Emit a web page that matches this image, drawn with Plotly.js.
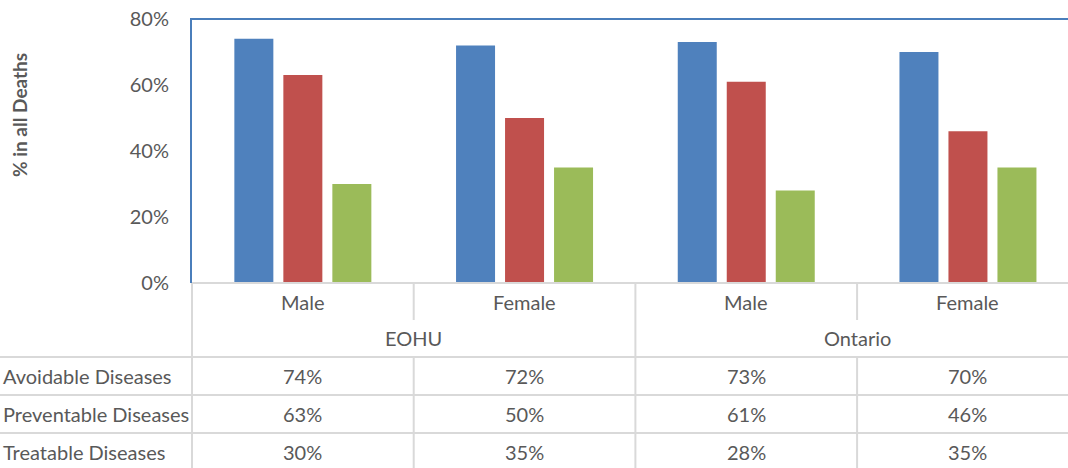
<!DOCTYPE html>
<html>
<head>
<meta charset="utf-8">
<script src="https://cdn.plot.ly/plotly-3.0.1.min.js"></script>
<style>html,body{margin:0;padding:0;background:#fff;}#chart{width:1068px;height:468px;}</style>
</head>
<body>
<div id="chart"></div>
<script>
// ---- data ----
var categories = ["Male", "Female", "Male ", "Female "];
var groups = ["EOHU", "Ontario"];
var seriesNames = ["Avoidable Diseases", "Preventable Diseases", "Treatable Diseases"];
var avoidable = [0.74, 0.72, 0.73, 0.70];
var preventable = [0.63, 0.50, 0.61, 0.46];
var treatable = [0.30, 0.35, 0.28, 0.35];
var tickValues = [0, 0.2, 0.4, 0.6, 0.8];
var tickLabels = ["0%", "20%", "40%", "60%", "80%"];

var seriesValues = [avoidable, preventable, treatable];
var colors = ["#4F81BD", "#C0504D", "#9BBB59"];
var FONT = "Lato, 'Open Sans', sans-serif";
var TXT = "#595959";
var GRID = "#D9D9D9";

// layout geometry (pixels)
var W = 1068, H = 468, L = 192, T = 19, B = 283;
var plotH = B - T;
function py(p) { return (B - p) / plotH; }
function px(p) { return (p - L) / (W - L); }
var catW = 221.7;
var xMax = -0.5 + (W - L) / catW;

var traces = seriesNames.map(function (n, i) {
  return {
    type: "bar", name: n, x: categories, y: seriesValues[i],
    marker: { color: colors[i] }, hoverinfo: "skip"
  };
});

var shapes = [];
var annotations = [];
function hline(yp, x0p) {
  shapes.push({ type: "line", xref: "paper", yref: "paper", x0: px(x0p), x1: 1.02, y0: py(yp), y1: py(yp), line: { color: GRID, width: 2 } });
}
function vline(xv, xref, y0p, y1p) {
  shapes.push({ type: "line", xref: xref, yref: "paper", x0: xv, x1: xv, y0: py(y0p), y1: py(y1p), line: { color: GRID, width: 2 } });
}
// table grid
hline(283, L);
hline(357, 0);
hline(395, 0);
hline(433, 0);
vline(0, "paper", 283, 480);
vline(0.5, "x", 283, 320);
vline(2.5, "x", 283, 320);
vline(0.5, "x", 357, 480);
vline(2.5, "x", 357, 480);
vline(1.5, "x", 283, 480);
// blue plot-area border (top and left)
shapes.push({ type: "line", xref: "paper", yref: "paper", x0: 0, x1: 1.02, y0: py(T), y1: py(T), line: { color: "#4A7EBB", width: 2 } });
shapes.push({ type: "line", xref: "paper", yref: "paper", x0: px(191), x1: px(191), y0: py(T - 1), y1: py(B), line: { color: "#4A7EBB", width: 2 } });

// category labels
categories.forEach(function (c, i) {
  annotations.push({ xref: "x", yref: "paper", x: i, y: py(302), text: c.trim(), showarrow: false, xanchor: "center", yanchor: "middle", font: { family: FONT, size: 20, color: TXT } });
});
groups.forEach(function (g, i) {
  annotations.push({ xref: "x", yref: "paper", x: 0.5 + 2 * i, y: py(338), text: g, showarrow: false, xanchor: "center", yanchor: "middle", font: { family: FONT, size: 20, color: TXT } });
});
// data table rows
var rowY = [376, 414, 452];
seriesNames.forEach(function (n, r) {
  annotations.push({ xref: "paper", yref: "paper", x: px(1), y: py(rowY[r]), text: n, showarrow: false, xanchor: "left", yanchor: "middle", font: { family: FONT, size: 20, color: TXT } });
  seriesValues[r].forEach(function (v, i) {
    annotations.push({ xref: "x", yref: "paper", x: i, y: py(rowY[r]), text: Math.round(v * 100) + "%", showarrow: false, xanchor: "center", yanchor: "middle", font: { family: FONT, size: 20, color: TXT } });
  });
});
// y axis title
annotations.push({ xref: "paper", yref: "paper", x: px(19), y: py(115), text: "<b>% in all Deaths</b>", textangle: -90, showarrow: false, xanchor: "center", yanchor: "middle", font: { family: FONT, size: 19, color: TXT } });

var layout = {
  width: W, height: H,
  margin: { l: L, r: 0, t: T, b: H - B, pad: 0 },
  paper_bgcolor: "#fff", plot_bgcolor: "#fff",
  showlegend: false,
  barmode: "group",
  bargap: 0.337,
  bargroupgap: 0.204,
  font: { family: FONT, color: TXT },
  xaxis: {
    type: "category", range: [-0.5, xMax], showticklabels: false, showgrid: false,
    zeroline: false, showline: false, ticks: "", fixedrange: true
  },
  yaxis: {
    range: [0, 0.8], tickvals: tickValues, ticktext: tickLabels, showgrid: false, zeroline: false,
    showline: false, ticks: "", ticklabelstandoff: 22,
    tickfont: { family: FONT, size: 20, color: TXT }, fixedrange: true
  },
  shapes: shapes,
  annotations: annotations
};

Plotly.newPlot("chart", traces, layout, { displayModeBar: false, staticPlot: true });
</script>
</body>
</html>
